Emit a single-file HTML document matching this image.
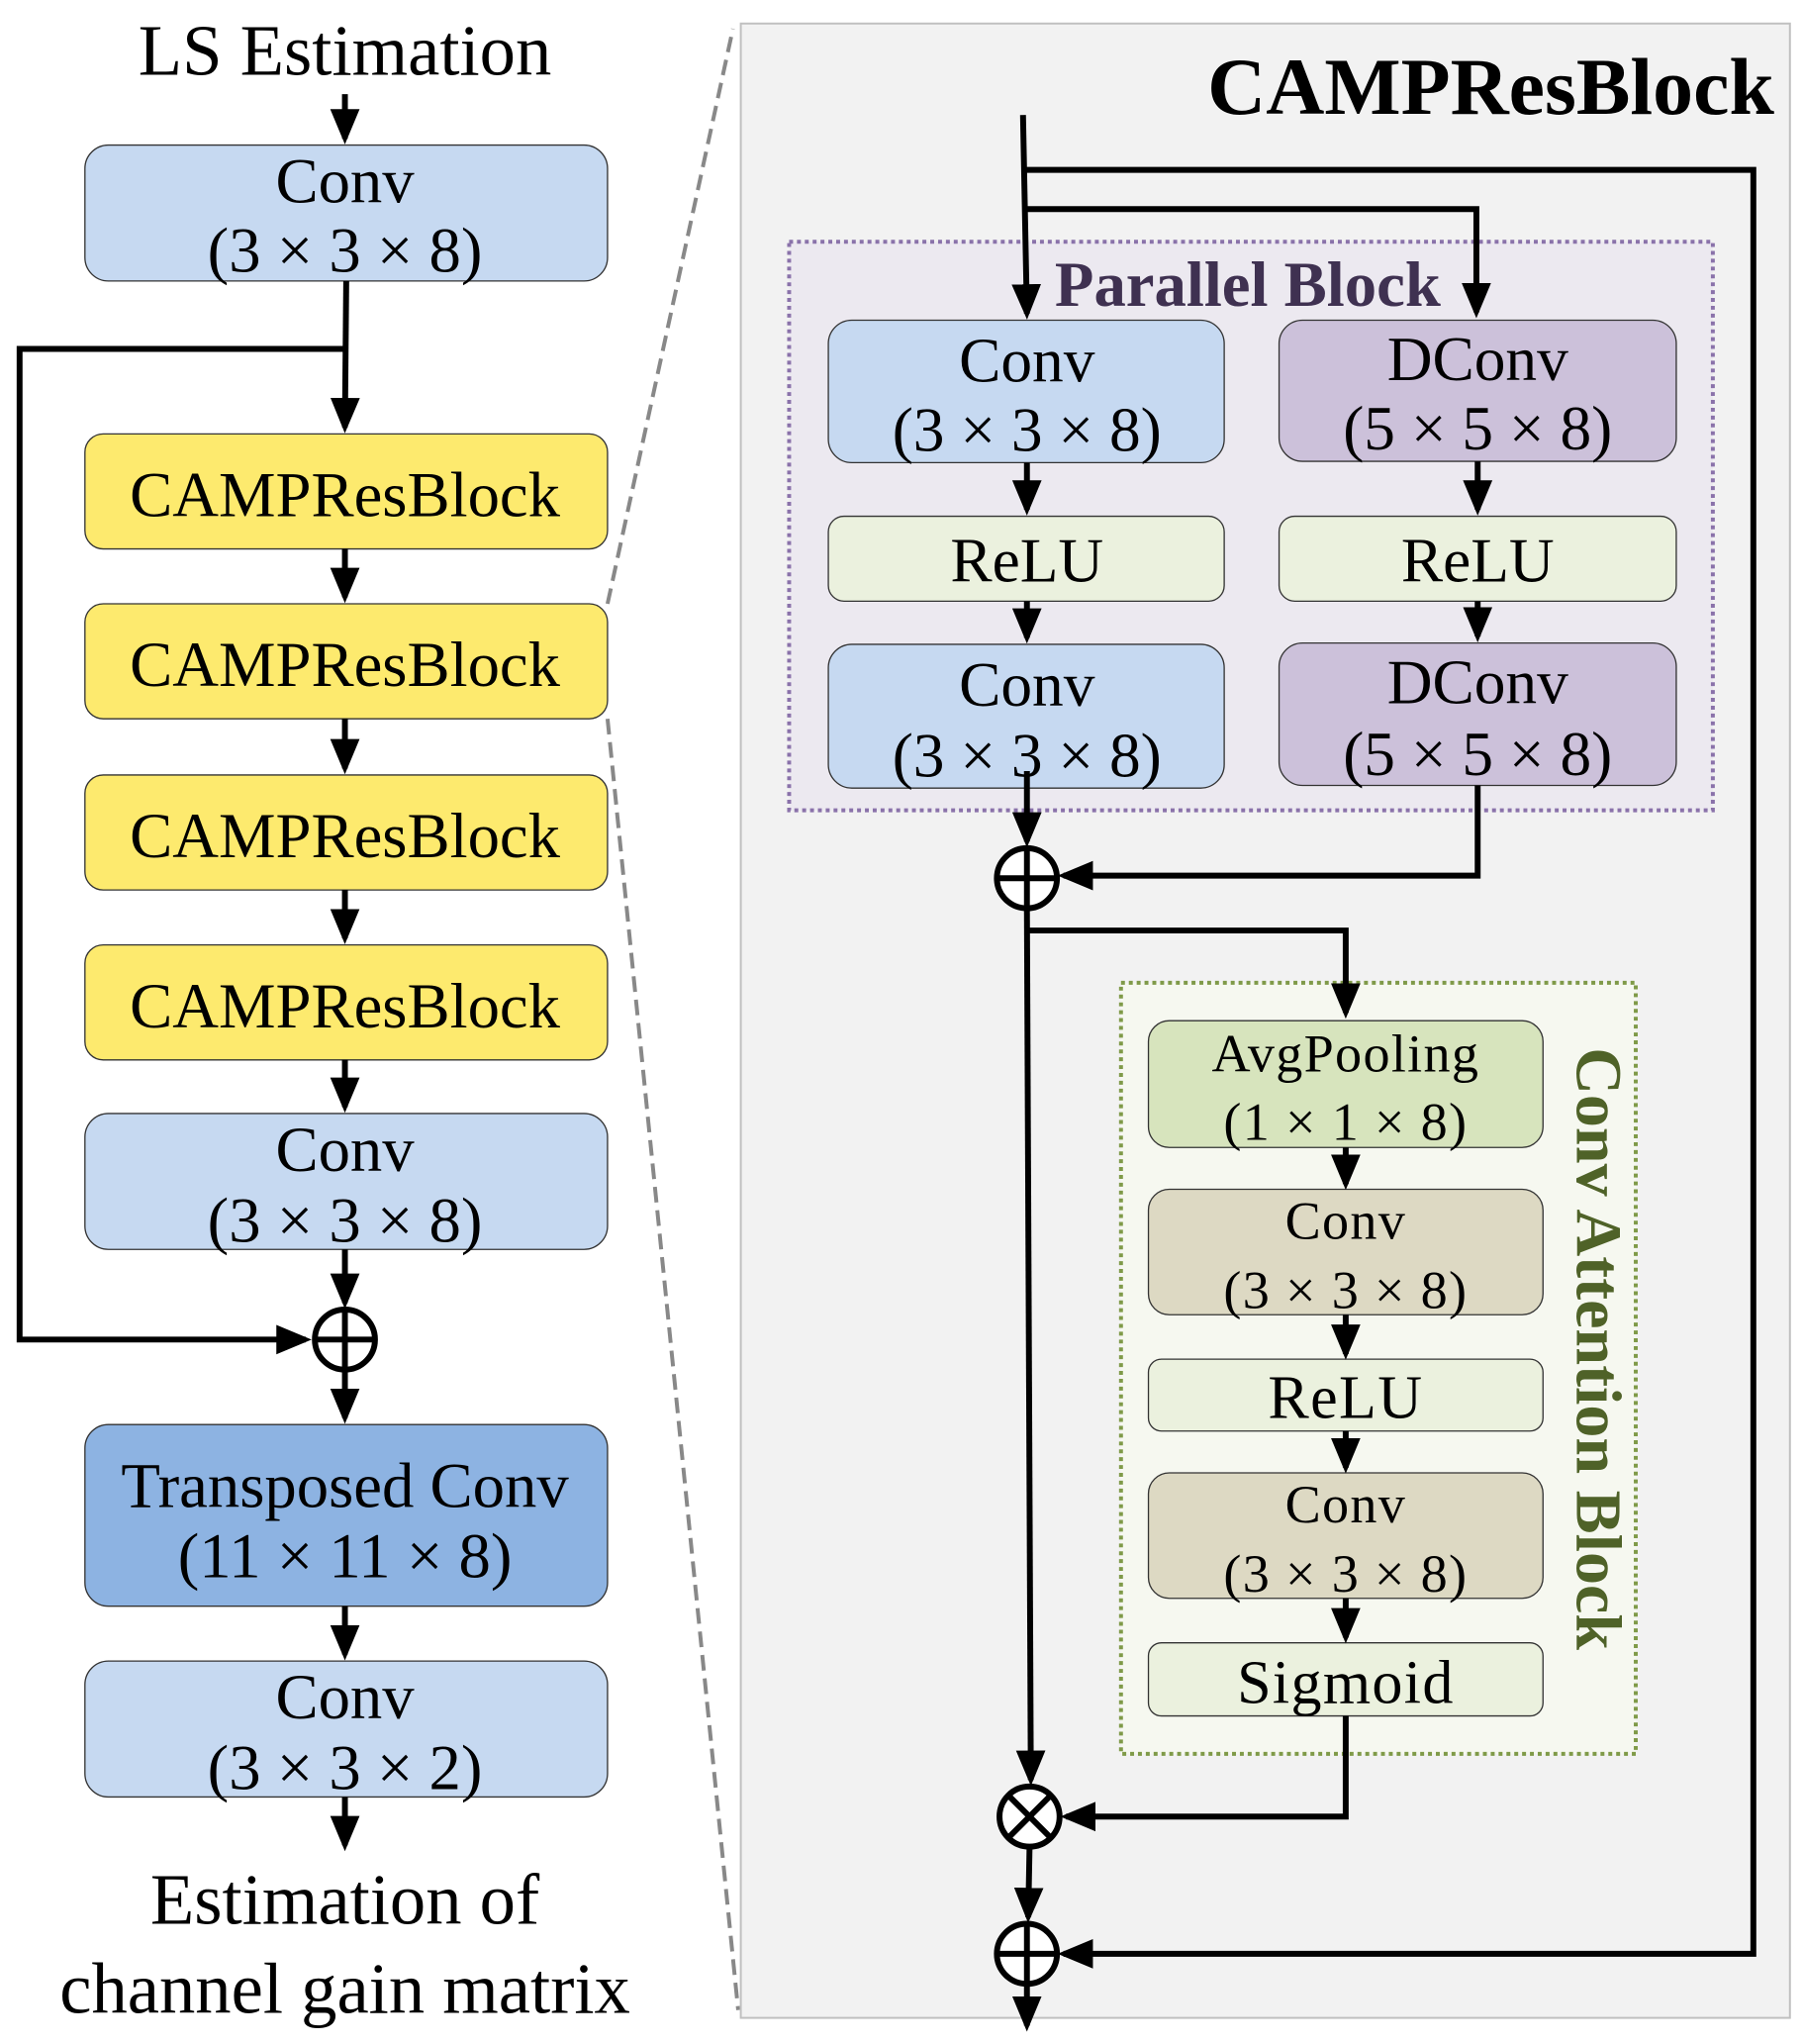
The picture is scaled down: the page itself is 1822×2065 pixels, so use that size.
<!DOCTYPE html>
<html><head><meta charset="utf-8"><style>html,body{margin:0;padding:0;background:#fff}svg{display:block}</style></head>
<body>
<svg width="1822" height="2065" viewBox="0 0 1380 1564" preserveAspectRatio="none" xmlns="http://www.w3.org/2000/svg" font-family="'Liberation Serif', serif">
<defs>
<marker id="a" markerWidth="6" markerHeight="6" refX="5" refY="3" orient="auto" markerUnits="strokeWidth"><path d="M0,0.5 L6,3 L0,5.5 z" fill="#000"/></marker>
</defs>
<line x1="465" y1="462" x2="561" y2="22" stroke="#888" stroke-width="3" stroke-dasharray="12,6"/>
<line x1="465" y1="550" x2="565" y2="1538" stroke="#888" stroke-width="3" stroke-dasharray="12,6"/>
<rect x="567" y="18" width="803" height="1526" fill="#f2f2f2" stroke="#c0c0c0" stroke-width="1.5"/>

<g font-size="49" text-anchor="middle" fill="#000">
<text x="264" y="57" font-size="55">LS Estimation</text>
<rect x="65" y="111" width="400" height="104" rx="18" fill="#c6d9f1" stroke="#333" stroke-width="1"/>
<text x="264" y="155">Conv</text><text x="264" y="208">(3 × 3 × 8)</text>
<rect x="65" y="332" width="400" height="88" rx="14" fill="#fdea6e" stroke="#333" stroke-width="1"/>
<text x="264" y="395">CAMPResBlock</text>
<rect x="65" y="462" width="400" height="88" rx="14" fill="#fdea6e" stroke="#333" stroke-width="1"/>
<text x="264" y="525">CAMPResBlock</text>
<rect x="65" y="593" width="400" height="88" rx="14" fill="#fdea6e" stroke="#333" stroke-width="1"/>
<text x="264" y="656">CAMPResBlock</text>
<rect x="65" y="723" width="400" height="88" rx="14" fill="#fdea6e" stroke="#333" stroke-width="1"/>
<text x="264" y="786">CAMPResBlock</text>
<rect x="65" y="852" width="400" height="104" rx="18" fill="#c6d9f1" stroke="#333" stroke-width="1"/>
<text x="264" y="896">Conv</text><text x="264" y="950">(3 × 3 × 8)</text>
<rect x="65" y="1090" width="400" height="139" rx="18" fill="#8db3e2" stroke="#333" stroke-width="1"/>
<text x="264" y="1153">Transposed Conv</text><text x="264" y="1207">(11 × 11 × 8)</text>
<rect x="65" y="1271" width="400" height="104" rx="18" fill="#c6d9f1" stroke="#333" stroke-width="1"/>
<text x="264" y="1315">Conv</text><text x="264" y="1369">(3 × 3 × 2)</text>
<text x="264" y="1472" font-size="55">Estimation of</text>
<text x="264" y="1540" font-size="55">channel gain matrix</text>
</g>
<g stroke="#000" stroke-width="4.5" fill="none">
<line x1="264" y1="72" x2="264" y2="106" marker-end="url(#a)"/>
<line x1="265" y1="215" x2="264" y2="327" marker-end="url(#a)"/>
<polyline points="264,267 15,267 15,1025 234,1025" marker-end="url(#a)"/>
<line x1="264" y1="420" x2="264" y2="457" marker-end="url(#a)"/>
<line x1="264" y1="550" x2="264" y2="588" marker-end="url(#a)"/>
<line x1="264" y1="681" x2="264" y2="718" marker-end="url(#a)"/>
<line x1="264" y1="811" x2="264" y2="847" marker-end="url(#a)"/>
<line x1="264" y1="956" x2="264" y2="997" marker-end="url(#a)"/>
<line x1="264" y1="1050" x2="264" y2="1085" marker-end="url(#a)"/>
<line x1="264" y1="1229" x2="264" y2="1266" marker-end="url(#a)"/>
<line x1="264" y1="1375" x2="264" y2="1412" marker-end="url(#a)"/>
<circle cx="264" cy="1025" r="23" fill="#fff"/>
<line x1="241" y1="1025" x2="287" y2="1025"/><line x1="264" y1="1002" x2="264" y2="1048"/>
</g>

<text x="1358" y="87" font-size="62" font-weight="bold" text-anchor="end">CAMPResBlock</text>
<rect x="604" y="185" width="707" height="435" fill="#ece9f0" stroke="#8a72aa" stroke-width="3" stroke-dasharray="3,3"/>
<text x="955" y="234" font-size="49" font-weight="bold" text-anchor="middle" fill="#3f3151">Parallel Block</text>
<rect x="858" y="752" width="394" height="590" fill="#f6f8f0" stroke="#7f9a48" stroke-width="3" stroke-dasharray="3,3"/>
<text transform="translate(1207,1032) rotate(90)" font-size="50" font-weight="bold" text-anchor="middle" fill="#4f6228">Conv Attention Block</text>

<g font-size="48" text-anchor="middle" fill="#000">
<rect x="634" y="245" width="303" height="109" rx="18" fill="#c6d9f1" stroke="#333" stroke-width="1"/>
<text x="786" y="292">Conv</text><text x="786" y="345">(3 × 3 × 8)</text>
<rect x="979" y="245" width="304" height="108" rx="18" fill="#ccc1da" stroke="#333" stroke-width="1"/>
<text x="1131" y="291">DConv</text><text x="1131" y="344">(5 × 5 × 8)</text>
<rect x="634" y="395" width="303" height="65" rx="12" fill="#ebf1de" stroke="#333" stroke-width="1"/>
<text x="786" y="445">ReLU</text>
<rect x="979" y="395" width="304" height="65" rx="12" fill="#ebf1de" stroke="#333" stroke-width="1"/>
<text x="1131" y="445">ReLU</text>
<rect x="634" y="493" width="303" height="110" rx="18" fill="#c6d9f1" stroke="#333" stroke-width="1"/>
<text x="786" y="540">Conv</text><text x="786" y="594">(3 × 3 × 8)</text>
<rect x="979" y="492" width="304" height="109" rx="18" fill="#ccc1da" stroke="#333" stroke-width="1"/>
<text x="1131" y="538">DConv</text><text x="1131" y="593">(5 × 5 × 8)</text>
</g>
<g font-size="41" text-anchor="middle" fill="#000" letter-spacing="1">
<rect x="879" y="781" width="302" height="97" rx="16" fill="#d7e4bd" stroke="#333" stroke-width="1"/>
<text x="1030" y="820">AvgPooling</text><text x="1030" y="872">(1 × 1 × 8)</text>
<rect x="879" y="910" width="302" height="96" rx="16" fill="#ddd9c3" stroke="#333" stroke-width="1"/>
<text x="1030" y="948">Conv</text><text x="1030" y="1001">(3 × 3 × 8)</text>
<rect x="879" y="1040" width="302" height="55" rx="10" fill="#ebf1de" stroke="#333" stroke-width="1"/>
<text x="1030" y="1085" font-size="47">ReLU</text>
<rect x="879" y="1127" width="302" height="96" rx="16" fill="#ddd9c3" stroke="#333" stroke-width="1"/>
<text x="1030" y="1165">Conv</text><text x="1030" y="1218">(3 × 3 × 8)</text>
<rect x="879" y="1257" width="302" height="56" rx="10" fill="#ebf1de" stroke="#333" stroke-width="1"/>
<text x="1030" y="1303" font-size="47">Sigmoid</text>
</g>

<g stroke="#000" stroke-width="4.5" fill="none">
<line x1="783" y1="88" x2="786" y2="240" marker-end="url(#a)"/>
<polyline points="785,160 1130,160 1130,239" marker-end="url(#a)"/>
<polyline points="784,130 1342,130 1342,1495 814,1495" marker-end="url(#a)"/>
<line x1="786" y1="354" x2="786" y2="390" marker-end="url(#a)"/>
<line x1="1131" y1="353" x2="1131" y2="390" marker-end="url(#a)"/>
<line x1="786" y1="460" x2="786" y2="488" marker-end="url(#a)"/>
<line x1="1131" y1="460" x2="1131" y2="487" marker-end="url(#a)"/>
<line x1="786" y1="590" x2="786" y2="644" marker-end="url(#a)"/>
<polyline points="1131,601 1131,670 814,670" marker-end="url(#a)"/>
<line x1="786" y1="696" x2="789" y2="1362" marker-end="url(#a)"/>
<polyline points="787,712 1030,712 1030,775" marker-end="url(#a)"/>
<line x1="1030" y1="878" x2="1030" y2="906" marker-end="url(#a)"/>
<line x1="1030" y1="1006" x2="1030" y2="1036" marker-end="url(#a)"/>
<line x1="1030" y1="1095" x2="1030" y2="1123" marker-end="url(#a)"/>
<line x1="1030" y1="1223" x2="1030" y2="1253" marker-end="url(#a)"/>
<polyline points="1030,1313 1030,1390 816,1390" marker-end="url(#a)"/>
<line x1="788" y1="1414" x2="787" y2="1467" marker-end="url(#a)"/>
<line x1="786" y1="1519" x2="786" y2="1550" marker-end="url(#a)"/>
<circle cx="786" cy="672" r="23" fill="#fff"/>
<line x1="763" y1="672" x2="809" y2="672"/><line x1="786" y1="649" x2="786" y2="695"/>
<circle cx="788" cy="1390" r="23" fill="#fff"/>
<line x1="772" y1="1374" x2="804" y2="1406"/><line x1="804" y1="1374" x2="772" y2="1406"/>
<circle cx="786" cy="1495" r="23" fill="#fff"/>
<line x1="763" y1="1495" x2="809" y2="1495"/><line x1="786" y1="1472" x2="786" y2="1518"/>
</g>
</svg>
</body></html>
